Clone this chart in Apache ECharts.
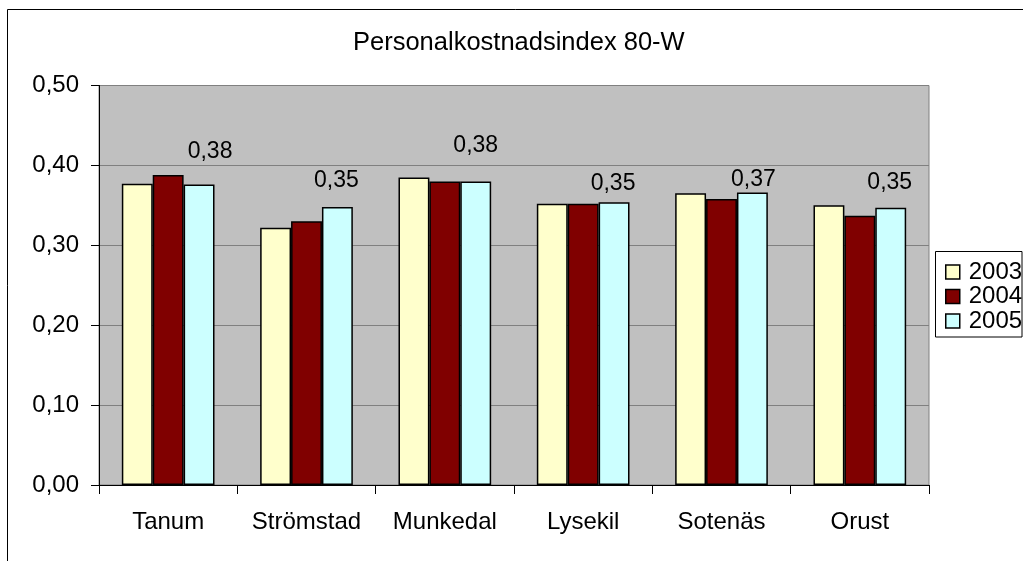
<!DOCTYPE html>
<html>
<head>
<meta charset="utf-8">
<script src="https://cdn.jsdelivr.net/npm/echarts@6/dist/echarts.min.js"></script>
<style>
  html, body { margin: 0; padding: 0; background: #fff; }
  #chart { width: 1023px; height: 561px; }
</style>
</head>
<body>
<div id="chart"></div>
<script>
// kommuner och värden per år
var kommuner = ["Tanum", "Strömstad", "Munkedal", "Lysekil", "Sotenäs", "Orust"];
var years = ["2003", "2004", "2005"];
var v2003 = [0.377, 0.322, 0.385, 0.352, 0.365, 0.350];
var v2004 = [0.388, 0.330, 0.380, 0.352, 0.358, 0.337];
var v2005 = [0.376, 0.348, 0.380, 0.354, 0.366, 0.347];
var yMin = 0, yMax = 0.5, yStep = 0.1;

// etiketterna för 2005 är flyttade för hand i originalet
var labelShift = [[11, -16], [-1, -10], [0, -19], [-1, -2], [1, 4], [-1, -9]];

var font = "Liberation Sans, Arial, sans-serif";
var black = "#000000";

function fmt(v) {
  return (Math.round(v * 100) / 100).toFixed(2).replace(".", ",");
}

var chart = echarts.init(document.getElementById("chart"));

var data2005 = v2005.map(function (v, i) {
  return { value: v, label: { offset: labelShift[i] } };
});

var barStyle = { borderColor: black, borderWidth: 1.5 };

var option = {
  animation: false,
  backgroundColor: "#ffffff",
  title: {
    text: "Personalkostnadsindex 80-W",
    left: 353,
    top: 30,
    padding: 0,
    textStyle: { fontFamily: font, fontSize: 25.5, fontWeight: "normal", color: black }
  },
  graphic: [
    {
      type: "rect",
      z: 0,
      shape: { x: 7.5, y: 9.5, width: 1100, height: 700 },
      style: { fill: "none", stroke: black, lineWidth: 1 }
    },
    {
      type: "rect",
      z: 0,
      shape: { x: 935.5, y: 251.5, width: 86.5, height: 85.5 },
      style: { fill: "#ffffff", stroke: black, lineWidth: 1 }
    }
  ],
  legend: {
    data: years,
    orient: "vertical",
    left: 945,
    top: 260,
    padding: 0,
    itemWidth: 14,
    itemHeight: 14,
    itemGap: 0.5,
    icon: "rect",
    itemStyle: { borderColor: black, borderWidth: 1.5 },
    textStyle: { fontFamily: font, fontSize: 24, lineHeight: 22, color: black, padding: [0, 0, 0, 4] }
  },
  grid: {
    left: 99,
    right: 94,
    top: 85.5,
    bottom: 76,
    show: true,
    backgroundColor: "#c0c0c0",
    borderColor: "#808080",
    borderWidth: 1
  },
  xAxis: {
    type: "category",
    data: kommuner,
    axisLine: { show: true, lineStyle: { color: black, width: 1 } },
    axisTick: { show: true, length: 9, interval: 0, lineStyle: { color: black } },
    axisLabel: { fontFamily: font, fontSize: 24, color: black, margin: 25, interval: 0 }
  },
  yAxis: {
    type: "value",
    min: yMin,
    max: yMax,
    interval: yStep,
    axisLine: { show: true, lineStyle: { color: black, width: 1 } },
    axisTick: { show: true, length: 8, lineStyle: { color: black } },
    axisLabel: { fontFamily: font, fontSize: 24, color: black, margin: 20, formatter: fmt },
    splitLine: { show: true, lineStyle: { color: "#808080", width: 1 } }
  },
  series: [
    {
      name: "2003",
      type: "bar",
      data: v2003,
      barGap: "0%",
      barCategoryGap: "33%",
      itemStyle: Object.assign({ color: "#ffffcc" }, barStyle)
    },
    {
      name: "2004",
      type: "bar",
      data: v2004,
      barGap: "0%",
      barCategoryGap: "33%",
      itemStyle: Object.assign({ color: "#800000" }, barStyle)
    },
    {
      name: "2005",
      type: "bar",
      data: data2005,
      barGap: "0%",
      barCategoryGap: "33%",
      itemStyle: Object.assign({ color: "#ccffff" }, barStyle),
      label: {
        show: true,
        position: "top",
        distance: 5,
        fontFamily: font,
        fontSize: 23,
        color: black,
        formatter: function (p) { return fmt(p.value); }
      }
    }
  ]
};

chart.setOption(option);
</script>
</body>
</html>
